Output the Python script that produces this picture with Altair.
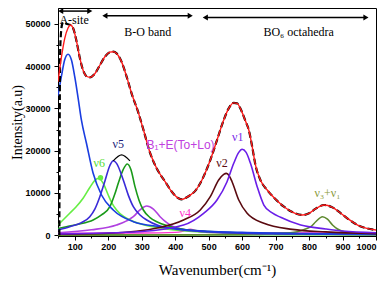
import altair as alt
import pandas as pd

# ---- curve data (wavenumber, intensity) ----
fit_w = [50, 60, 70, 80, 87, 95, 105, 115, 125, 135, 145, 160, 175, 190, 205, 215, 225, 240, 255, 270, 290, 305, 325, 345, 370, 390, 410, 420, 435, 445, 460, 475, 490, 505, 525, 545, 560, 575, 585, 597, 610, 620, 630, 640, 655, 675, 700, 725, 750, 780, 800, 820, 845, 870, 895, 920, 945, 970, 1000]
fit_v = [36300, 42000, 46500, 49000, 49700, 49000, 46000, 42000, 39000, 37600, 37350, 38200, 40200, 42200, 43300, 43400, 43000, 41000, 37500, 33500, 29000, 25000, 19500, 15800, 12700, 10300, 8750, 8500, 9000, 9500, 10500, 12300, 14800, 17800, 22500, 27250, 30000, 31300, 31200, 29600, 27000, 24900, 21000, 16600, 13000, 10700, 8500, 6760, 5500, 4800, 5200, 6300, 7160, 6600, 5200, 3700, 2430, 1700, 1250]

raw_w = [54, 55, 57, 62, 66, 75, 87, 95, 105, 115, 125, 135, 145, 160, 175, 190, 205, 215, 225, 240, 255, 270, 290, 305, 325, 345, 370, 390, 410, 420, 435, 445, 460, 475, 490, 505, 525, 545, 560, 575, 585, 597, 610, 620, 630, 640, 655, 675, 700, 725, 750, 780, 800, 820, 845, 870, 895, 920, 945, 970, 1000]
raw_v = [0, 25000, 45000, 49800, 50400, 50000, 49700, 49000, 46000, 42000, 39000, 37600, 37350, 38200, 40200, 42200, 43300, 43400, 43000, 41000, 37500, 33500, 29000, 25000, 19500, 15800, 12700, 10300, 8750, 8500, 9000, 9500, 10500, 12300, 14800, 17800, 22500, 27250, 30000, 31300, 31200, 29600, 27000, 24900, 21000, 16600, 13000, 10700, 8500, 6760, 5500, 4800, 5200, 6300, 7160, 6600, 5200, 3700, 2430, 1700, 1250]

asite_w = [50, 60, 70, 80, 90, 100, 110, 120, 135, 155, 180, 215, 275, 355, 450, 600, 800, 1000]
asite_v = [33000, 37500, 41500, 42800, 41500, 37500, 32500, 27200, 21750, 14650, 9530, 5980, 3220, 2030, 1200, 700, 400, 250]

v5_w = [50, 85, 120, 145, 160, 175, 190, 205, 215, 225, 245, 260, 275, 295, 315, 350, 400, 500, 600, 800, 1000]
v5_v = [1250, 2030, 3000, 4400, 6200, 9130, 12800, 16500, 17640, 17000, 13070, 9500, 6760, 4800, 3620, 2300, 1500, 800, 500, 300, 200]

dg_w = [50, 75, 110, 155, 180, 205, 220, 230, 245, 257, 268, 280, 292, 305, 325, 345, 380, 420, 500, 700, 1000]
dg_v = [1600, 2030, 2600, 3620, 4800, 6760, 9800, 12300, 15600, 16850, 15500, 11500, 8300, 5980, 4200, 3220, 2200, 1500, 900, 400, 200]

v6_w = [50, 85, 105, 125, 145, 160, 172, 185, 200, 212, 225, 245, 265, 300, 350, 450, 600, 1000]
v6_v = [2430, 5200, 6800, 8750, 11300, 13000, 13500, 12300, 9530, 7500, 5980, 4500, 3620, 2600, 1800, 900, 500, 200]

b1e_w = [50, 150, 225, 255, 275, 295, 315, 335, 355, 375, 395, 450, 550, 700, 1000]
b1e_v = [600, 1300, 2430, 3400, 4400, 6000, 6930, 6200, 4400, 3000, 2030, 1100, 600, 350, 200]

v4_w = [50, 300, 400, 425, 445, 465, 490, 600, 1000]
v4_v = [500, 550, 700, 1000, 1450, 1000, 700, 600, 550]

v2_w = [50, 200, 350, 425, 475, 505, 530, 545, 553, 562, 570, 590, 615, 665, 750, 850, 1000]
v2_v = [250, 500, 1800, 3620, 5980, 9130, 13070, 14400, 14650, 14000, 12670, 8340, 5200, 2840, 1400, 800, 400]

v1_w = [50, 300, 425, 485, 525, 555, 575, 590, 600, 612, 625, 645, 665, 690, 715, 775, 850, 900, 1000]
v1_v = [300, 900, 2430, 5200, 8340, 12670, 17020, 19600, 20330, 19600, 17020, 11490, 7160, 5300, 4250, 2430, 1500, 1000, 600]

v31_w = [50, 600, 700, 765, 790, 805, 820, 840, 855, 870, 885, 905, 950, 1000]
v31_v = [50, 150, 400, 850, 1500, 2030, 3200, 4400, 3800, 2430, 1500, 850, 400, 250]

base_w = [50, 1000]
base_v = [100, 100]

# ---- annotations ----
label_text = ["ν5", "ν6", "ν1", "ν2", "ν4", "ν₃+ν₁"]
label_w = [230, 173, 587, 540, 430, 855]
label_v = [21700, 17000, 23300, 17000, 5200, 9930]
label_color = ["#1c1c7a", "#55dd33", "#7a2ae8", "#5a0a10", "#ff33cc", "#8a9a3a"]

region_text = ["A-site", "B-O band", "BO₆ octahedra"]
region_w = [98, 318, 769]
region_v = [50900, 48060, 48060]

arrow_start = [58, 190, 490]
arrow_end = [145, 445, 970]
arrow_v = [53000, 51900, 51500]

bracket_w = [215, 240, 265]
bracket_v = [17600, 19000, 17600]

dot_w = [177]
dot_v = [13600]

X = alt.X("w:Q", scale=alt.Scale(domain=[50, 1000], nice=False, zero=False),
          axis=alt.Axis(values=list(range(50, 1001, 50)),
                        labelExpr="datum.value % 100 === 0 ? datum.label : ''",
                        tickSize={"condition": {"test": "datum.value % 100 === 0", "value": 4}, "value": 2},
                        format="d", labelOverlap=False, labelPadding=2,
                        title="Wavenumber(cm⁻¹)", titlePadding=11))
Y = alt.Y("v:Q", scale=alt.Scale(domain=[-165, 53730], nice=False, zero=False),
          axis=alt.Axis(values=list(range(0, 50001, 5000)),
                        labelExpr="datum.value % 10000 === 0 ? datum.label : ''",
                        tickSize={"condition": {"test": "datum.value % 10000 === 0", "value": 4}, "value": 2},
                        format="d", labelOverlap=False, labelPadding=4,
                        title="Intensity(a.u)", titlePadding=0, titleFontSize=14))


def curve(ws, vs, color, width=1.6, dash=None):
    df = pd.DataFrame({"w": ws, "v": vs})
    kw = dict(color=color, strokeWidth=width, interpolate="monotone", clip=True)
    if dash:
        kw["strokeDash"] = dash
    return alt.Chart(df).mark_line(**kw).encode(x=X, y=Y)


layers = [
    curve(base_w, base_v, "#33cc33", 1.4),
    curve(v4_w, v4_v, "#ff33cc", 1.4),
    curve(v31_w, v31_v, "#5f8a30", 1.6),
    curve(b1e_w, b1e_v, "#b040e0", 1.6),
    curve(v6_w, v6_v, "#66ee44", 1.6),
    curve(dg_w, dg_v, "#1a9a1a", 1.6),
    curve(v5_w, v5_v, "#3a2ad8", 1.6),
    curve(asite_w, asite_v, "#1a3de0", 1.6),
    curve(v2_w, v2_v, "#5a0a10", 1.6),
    curve(v1_w, v1_v, "#6a1ee8", 1.6),
    curve(raw_w, raw_v, "#000000", 2.2, [6, 3]),
    curve(fit_w, fit_v, "#ff1a1a", 1.4),
    curve(bracket_w, bracket_v, "#000000", 1.2),
]

dot_df = pd.DataFrame({"w": dot_w, "v": dot_v})
layers.append(alt.Chart(dot_df).mark_circle(color="#66ee44", size=30, opacity=1).encode(x=X, y=Y))

lab_df = pd.DataFrame({"t": label_text, "w": label_w, "v": label_v, "c": label_color})
layers.append(alt.Chart(lab_df).mark_text(font="Liberation Serif", fontSize=12, baseline="middle").encode(
    x=X, y=Y, text="t:N", color=alt.Color("c:N", scale=None)))

b1_df = pd.DataFrame({"t": ["B₁+E(To+Lo)"], "w": [416], "v": [21350]})
layers.append(alt.Chart(b1_df).mark_text(font="Liberation Sans", fontSize=12, color="#c040e0", baseline="middle").encode(
    x=X, y=Y, text="t:N"))

reg_df = pd.DataFrame({"t": region_text, "w": region_w, "v": region_v})
layers.append(alt.Chart(reg_df).mark_text(font="Liberation Serif", fontSize=12, color="black", baseline="middle").encode(
    x=X, y=Y, text="t:N"))

arr_df = pd.DataFrame({"w": arrow_start, "w2": arrow_end, "v": arrow_v})
arr_end_df = pd.DataFrame({"w": arrow_end, "v": arrow_v})
layers.append(alt.Chart(arr_df).mark_rule(color="black", strokeWidth=1.5).encode(x=X, x2="w2:Q", y=Y))
layers.append(alt.Chart(arr_df).mark_point(shape="triangle-left", filled=True, color="black", size=35, opacity=1).encode(x=X, y=Y))
layers.append(alt.Chart(arr_end_df).mark_point(shape="triangle-right", filled=True, color="black", size=35, opacity=1).encode(x=X, y=Y))

chart = alt.layer(*layers).properties(
    width=318, height=228,
    autosize=alt.AutoSizeParams(type="none"),
    padding={"left": 50, "top": 0, "right": 3, "bottom": 46},
).configure_view(stroke="black", strokeWidth=1).configure_axis(
    grid=False, domainColor="black", tickColor="black", labelColor="black",
    labelFont="Liberation Sans", labelFontWeight="bold", labelFontSize=9,
    titleFont="Liberation Serif", titleFontSize=15, titleFontWeight="normal", titleColor="black",
)

chart.save("out.html", embed_options={"renderer": "svg", "actions": False})
